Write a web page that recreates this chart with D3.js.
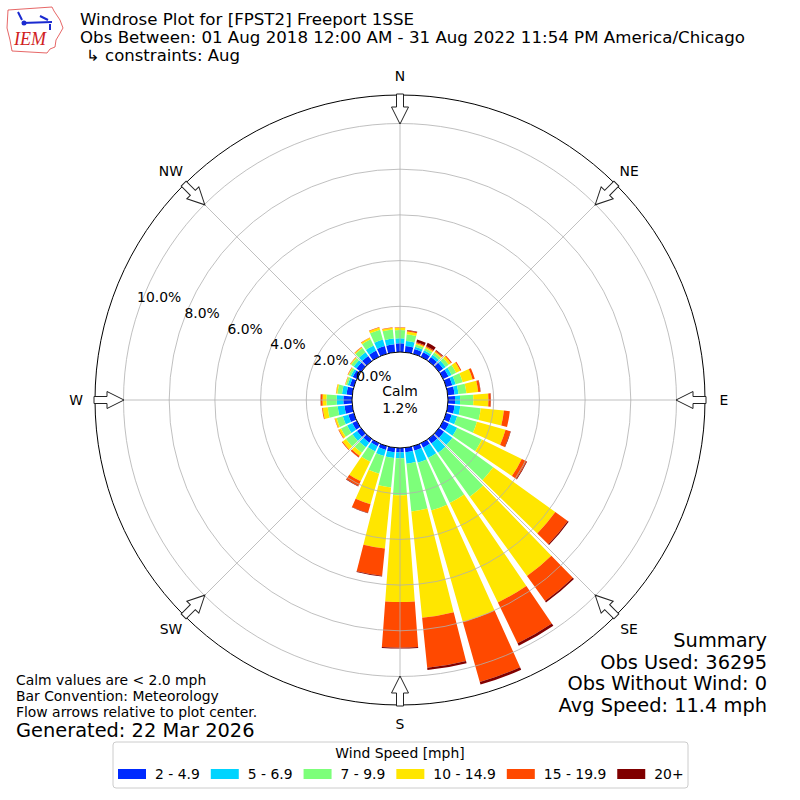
<!DOCTYPE html>
<html>
<head>
<meta charset="utf-8">
<script src="https://cdn.jsdelivr.net/npm/d3@7"></script>
<style>
  body { margin: 0; background: #fff; }
  svg { font-family: "DejaVu Sans", sans-serif; }
</style>
</head>
<body>
<svg id="rose" width="800" height="800"></svg>
<script>
// direction bins (degrees, met convention) and percent of obs per speed bin
const directions = [0, 10, 20, 30, 40, 50, 60, 70, 80, 90, 100, 110, 120, 130, 140, 150, 160, 170,
  180, 190, 200, 210, 220, 230, 240, 250, 260, 270, 280, 290, 300, 310, 320, 330, 340, 350];
const speed2to5 = [0.38, 0.27, 0.22, 0.22, 0.22, 0.23, 0.26, 0.28, 0.30, 0.31, 0.30, 0.25, 0.28, 0.28, 0.25, 0.22, 0.20, 0.20,
  0.19, 0.20, 0.17, 0.15, 0.20, 0.22, 0.22, 0.25, 0.34, 0.38, 0.25, 0.18, 0.20, 0.25, 0.28, 0.30, 0.35, 0.35];
const speed5to7 = [0.22, 0.22, 0.10, 0.10, 0.12, 0.14, 0.15, 0.15, 0.17, 0.22, 0.25, 0.25, 0.40, 0.45, 0.50, 0.50, 0.55, 0.50,
  0.26, 0.25, 0.28, 0.25, 0.25, 0.25, 0.25, 0.25, 0.30, 0.29, 0.20, 0.10, 0.10, 0.15, 0.20, 0.25, 0.30, 0.25];
const speed7to10 = [0.36, 0.30, 0.10, 0.10, 0.12, 0.16, 0.22, 0.32, 0.35, 0.58, 0.90, 0.90, 1.20, 2.20, 2.37, 2.18, 2.17, 2.10,
  1.62, 1.30, 0.80, 0.50, 0.30, 0.35, 0.30, 0.28, 0.44, 0.45, 0.20, 0.08, 0.10, 0.14, 0.22, 0.30, 0.45, 0.40];
const speed10to15 = [0.10, 0.12, 0.06, 0.06, 0.06, 0.12, 0.20, 0.45, 0.52, 0.66, 1.02, 1.30, 1.94, 3.35, 4.28, 4.84, 5.08, 4.68,
  4.67, 2.68, 1.39, 0.95, 0.17, 0.18, 0.10, 0.08, 0.22, 0.17, 0.06, 0.03, 0.03, 0.04, 0.05, 0.07, 0.10, 0.08];
const speed15to20 = [0.02, 0.05, 0.05, 0.05, 0.05, 0.05, 0.05, 0.10, 0.10, 0.10, 0.26, 0.22, 0.23, 0.67, 1.35, 1.98, 2.72, 2.20,
  2.00, 1.20, 0.39, 0.23, 0.07, 0.04, 0.03, 0.02, 0.03, 0.08, 0.01, 0.01, 0.02, 0.02, 0.02, 0.02, 0.02, 0.02];
const speed20plus = [0.00, 0.02, 0.12, 0.15, 0.03, 0.00, 0.00, 0.00, 0.01, 0.01, 0.00, 0.02, 0.03, 0.05, 0.07, 0.12, 0.12, 0.10,
  0.04, 0.03, 0.02, 0.02, 0.01, 0.00, 0.00, 0.00, 0.00, 0.01, 0.00, 0.00, 0.00, 0.00, 0.00, 0.00, 0.00, 0.00];

const binLabels = ["2 - 4.9", "5 - 6.9", "7 - 9.9", "10 - 14.9", "15 - 19.9", "20+"];
const binColors = ["#002aff", "#00d4ff", "#7dff7a", "#ffe600", "#ff4900", "#800000"];
const rTicks = [0, 2, 4, 6, 8, 10];
const compass = [["N", 0], ["NE", 45], ["E", 90], ["SE", 135], ["S", 180], ["SW", 225], ["W", 270], ["NW", 315]];
const calmPct = 1.2;

const titleLines = [
  "Windrose Plot for [FPST2] Freeport 1SSE",
  "Obs Between: 01 Aug 2018 12:00 AM - 31 Aug 2022 11:54 PM America/Chicago",
];
const titleWidths = [334, 665];
const constraintLine = "\u21b3 constraints: Aug";
const summaryLines = ["Summary", "Obs Used: 36295", "Obs Without Wind: 0", "Avg Speed: 11.4 mph"];
const footLines = ["Calm values are < 2.0 mph", "Bar Convention: Meteorology", "Flow arrows relative to plot center."];
const generatedLine = "Generated: 22 Mar 2026";

const svg = d3.select("#rose");
const cx = 400, cy = 400;
const rCalm = 48, rOuter = 305;
const barWidth = 8.4; // degrees

const rScale = d3.scaleLinear().domain([0, 10]).range([rCalm, 276.5]);
const rad = (deg) => (deg * Math.PI) / 180;
const polar = (r, deg) => [r * Math.sin(rad(deg)), -r * Math.cos(rad(deg))];

const series = [speed2to5, speed5to7, speed7to10, speed10to15, speed15to20, speed20plus];

const g = svg.append("g").attr("transform", `translate(${cx}, ${cy})`);

// stacked bars
const arc = d3.arc();
const segs = [];
directions.forEach((dir, i) => {
  let base = 0;
  series.forEach((s, k) => {
    const v = s[i];
    if (v > 0) segs.push({ dir, k, lo: base, hi: base + v });
    base += v;
  });
});

g.append("g")
  .selectAll("path")
  .data(segs)
  .enter()
  .append("path")
  .attr("d", (d) =>
    arc({
      innerRadius: rScale(d.lo),
      outerRadius: rScale(d.hi),
      startAngle: rad(d.dir - barWidth / 2),
      endAngle: rad(d.dir + barWidth / 2),
    })
  )
  .style("fill", (d) => binColors[d.k]);

// grid on top of bars
const grid = g.append("g");
grid
  .selectAll(".gridCircle")
  .data(rTicks.filter((t) => t > 0))
  .enter()
  .append("circle")
  .attr("r", (d) => rScale(d))
  .style("fill", "none")
  .style("stroke", "#b0b0b0")
  .style("stroke-width", 0.8);

grid
  .selectAll(".spoke")
  .data(compass)
  .enter()
  .append("line")
  .attr("x1", (d) => polar(rCalm, d[1])[0])
  .attr("y1", (d) => polar(rCalm, d[1])[1])
  .attr("x2", (d) => polar(rOuter, d[1])[0])
  .attr("y2", (d) => polar(rOuter, d[1])[1])
  .style("stroke", "#b0b0b0")
  .style("stroke-width", 0.8);

g.append("circle")
  .attr("r", rOuter)
  .style("fill", "none")
  .style("stroke", "black")
  .style("stroke-width", 1);

g.append("circle")
  .attr("r", rCalm)
  .style("fill", "white")
  .style("stroke", "black")
  .style("stroke-width", 1);

// radial tick labels
g.selectAll(".rlabel")
  .data(rTicks)
  .enter()
  .append("text")
  .attr("x", (d) => polar(rScale(d), 290)[0] + 19)
  .attr("y", (d) => polar(rScale(d), 290)[1] - 8)
  .attr("text-anchor", "middle")
  .attr("dominant-baseline", "central")
  .style("font-size", "13.9px")
  .text((d) => d.toFixed(1) + "%");

// calm
g.append("text")
  .attr("y", -9)
  .attr("text-anchor", "middle")
  .attr("dominant-baseline", "central")
  .style("font-size", "13.9px")
  .text("Calm");
g.append("text")
  .attr("y", 8)
  .attr("text-anchor", "middle")
  .attr("dominant-baseline", "central")
  .style("font-size", "13.9px")
  .text(calmPct.toFixed(1) + "%");

// flow arrows pointing to center
const arrowPts = [
  [-3.5, -306], [3.5, -306], [3.5, -293], [8.5, -293], [0, -276], [-8.5, -293], [-3.5, -293],
];
g.selectAll(".arrow")
  .data(compass)
  .enter()
  .append("path")
  .attr("d", d3.line()(arrowPts) + "Z")
  .attr("transform", (d) => `rotate(${d[1]})`)
  .style("fill", "white")
  .style("stroke", "#222")
  .style("stroke-width", 1);

g.selectAll(".dirLabel")
  .data(compass)
  .enter()
  .append("text")
  .attr("x", (d) => polar(324, d[1])[0])
  .attr("y", (d) => polar(324, d[1])[1])
  .attr("text-anchor", "middle")
  .attr("dominant-baseline", "central")
  .style("font-size", "13.9px")
  .text((d) => d[0]);

// header (slightly condensed so lines do not collide)
svg.selectAll(".title")
  .data(titleLines)
  .enter()
  .append("text")
  .attr("x", 80)
  .attr("y", (d, i) => 20 + i * 18)
  .attr("dominant-baseline", "central")
  .attr("textLength", (d, i) => titleWidths[i])
  .attr("lengthAdjust", "spacingAndGlyphs")
  .style("font-size", "15.2px")
  .text((d) => d);
svg.append("text")
  .attr("x", 86)
  .attr("y", 56)
  .attr("dominant-baseline", "central")
  .attr("textLength", 154)
  .attr("lengthAdjust", "spacingAndGlyphs")
  .style("font-size", "15.2px")
  .text(constraintLine);

// IEM logo
const logo = svg.append("g");
logo.append("path")
  .attr("d", "M8,10 L52,7 L54,11 L60,20 L63,28 L59,35 L56,40 L55,47 L50,49 L47,53 L12,51 L10,40 L7,28 Z")
  .style("fill", "none")
  .style("stroke", "#e04040")
  .style("stroke-width", 0.8);
logo.append("path")
  .attr("d", "M22,23 L52,22 M18,12 L22,20 M40,16 L48,20 M50,24 L50,30")
  .style("fill", "none")
  .style("stroke", "#1a2ad0")
  .style("stroke-width", 2);
logo.append("circle").attr("cx", 24).attr("cy", 23).attr("r", 2.5).style("fill", "#1a2ad0");
logo.append("text")
  .attr("x", 14)
  .attr("y", 45)
  .style("font-family", "Liberation Serif, serif")
  .style("font-style", "italic")
  .style("font-size", "18px")
  .style("fill", "#d02020")
  .text("IEM");

// summary block
svg.selectAll(".summary")
  .data(summaryLines)
  .enter()
  .append("text")
  .attr("x", 767)
  .attr("y", (d, i) => [640, 662, 683, 705][i])
  .attr("text-anchor", "end")
  .attr("dominant-baseline", "central")
  .style("font-size", "19.4px")
  .text((d) => d);

// footer notes
svg.selectAll(".foot")
  .data(footLines)
  .enter()
  .append("text")
  .attr("x", 16)
  .attr("y", (d, i) => 680 + i * 16)
  .attr("dominant-baseline", "central")
  .style("font-size", "13.9px")
  .text((d) => d);
svg.append("text")
  .attr("x", 16)
  .attr("y", 730)
  .attr("dominant-baseline", "central")
  .style("font-size", "19.4px")
  .text(generatedLine);

// legend
const legend = svg.append("g");
legend.append("rect")
  .attr("x", 113)
  .attr("y", 742)
  .attr("width", 575)
  .attr("height", 46)
  .attr("rx", 3)
  .style("fill", "white")
  .style("stroke", "#cccccc")
  .style("stroke-width", 1);
legend.append("text")
  .attr("x", 400)
  .attr("y", 753)
  .attr("text-anchor", "middle")
  .attr("dominant-baseline", "central")
  .style("font-size", "13.9px")
  .text("Wind Speed [mph]");

let lx = 118;
binLabels.forEach((lab, k) => {
  legend.append("rect")
    .attr("x", lx)
    .attr("y", 769)
    .attr("width", 28)
    .attr("height", 10)
    .style("fill", binColors[k]);
  const t = legend.append("text")
    .attr("x", lx + 37)
    .attr("y", 774)
    .attr("dominant-baseline", "central")
    .style("font-size", "13.9px")
    .text(lab);
  lx += 37 + t.node().getComputedTextLength() + 11;
});
</script>
</body>
</html>
